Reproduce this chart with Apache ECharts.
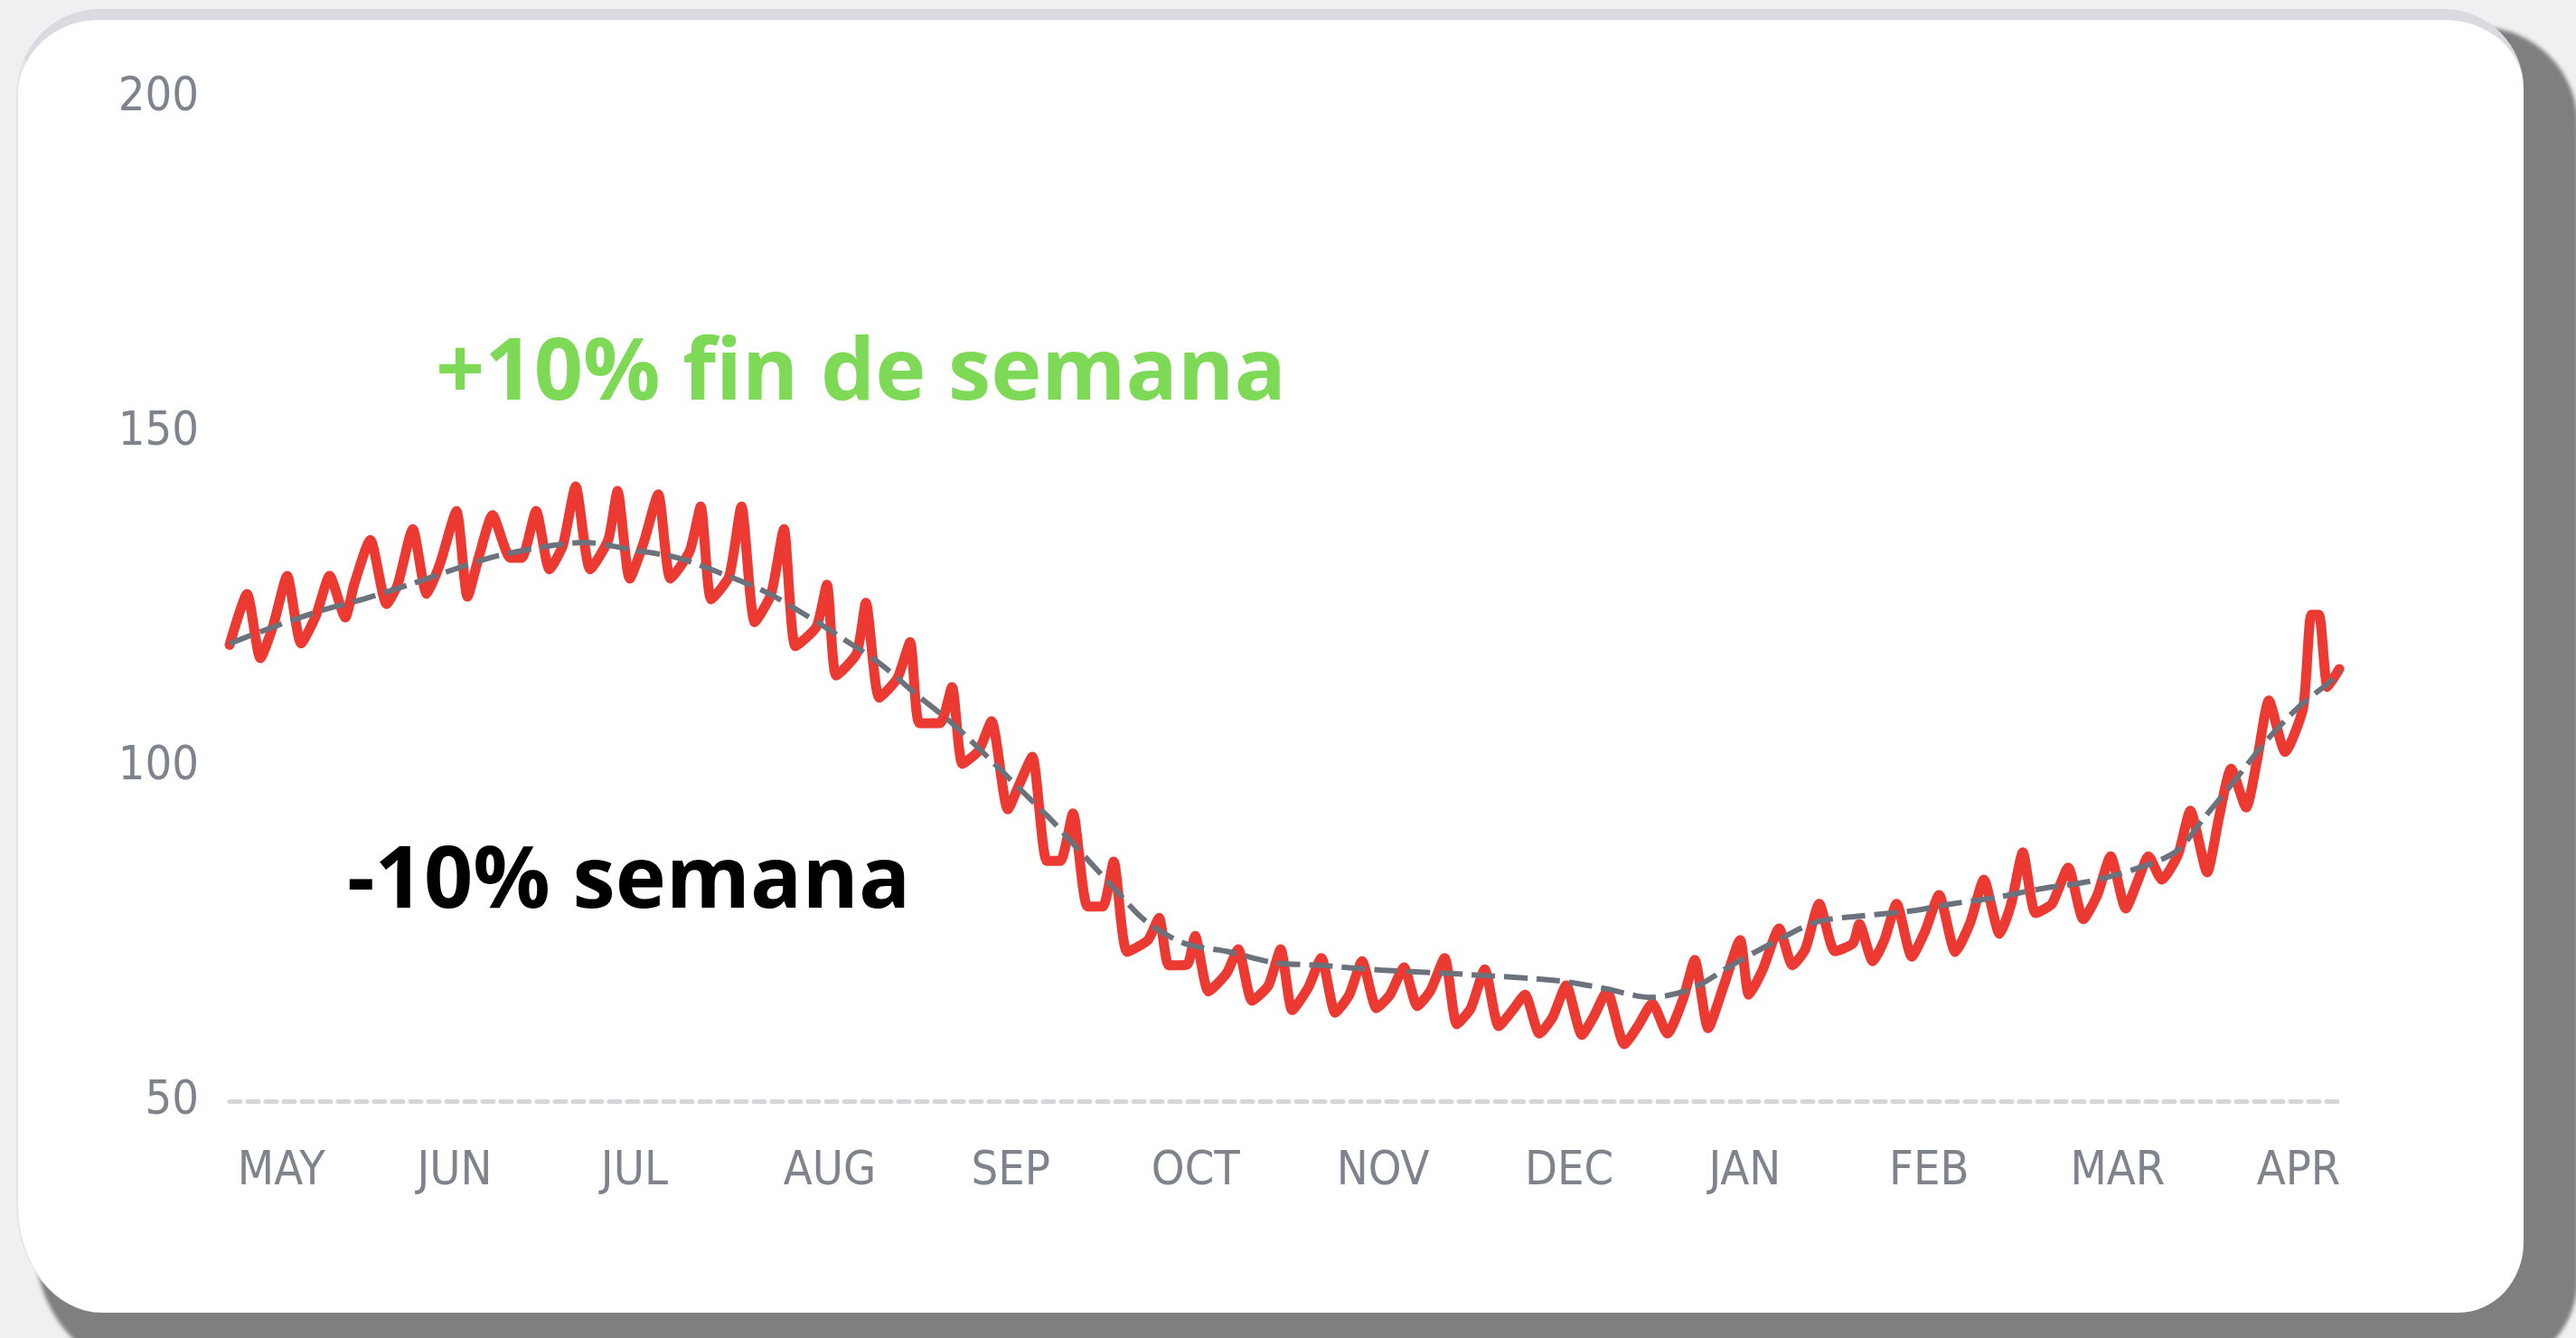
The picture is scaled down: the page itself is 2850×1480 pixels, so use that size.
<!DOCTYPE html>
<html>
<head>
<meta charset="utf-8">
<script src="https://cdn.jsdelivr.net/npm/echarts@6/dist/echarts.min.js"></script>
<style>
  html, body { margin: 0; padding: 0; width: 2850px; height: 1480px; overflow: hidden; background: #eff0f2; }
  #card {
    position: absolute; left: 18px; top: 10px; width: 2774px; height: 1442px;
    box-sizing: border-box; background: #ffffff;
    border-top: 12px solid #d9dbe0; border-left: 2px solid #e3e5e8;
    border-radius: 92px 88px 72px 95px / 95px 88px 78px 120px;
    box-shadow: 40px 40px 4px 20px #7f7f7f;
  }
  #chart { position: absolute; left: 0; top: 0; width: 2850px; height: 1480px; }
</style>
</head>
<body>
<div id="card"></div>
<div id="chart"></div>
<script>
// Month tick labels and the day (from series start) at which each is centred
const months = ['MAY','JUN','JUL','AUG','SEP','OCT','NOV','DEC','JAN','FEB','MAR','APR'];
const monthDays = [8.9, 38.7, 69.6, 103.2, 134.3, 166.1, 198.3, 230.3, 260.5, 292.2, 324.6, 355.7];

// Red series: daily traffic, key points (day index, value)
const redDays = [
  0, 3.0, 5.3, 7.5, 9.9, 12.3, 14.9, 17.2, 19.9, 21.4,
  24.2, 27.0, 28.9, 31.5, 33.9, 36.2, 39.0, 40.9, 42.9, 45.2,
  48.3, 50.2, 52.7, 55.0, 57.3, 59.5, 62.0, 65.1, 66.7, 68.8,
  71.2, 73.7, 75.8, 79.1, 81.0, 82.8, 85.9, 88.0, 90.3, 93.1,
  95.3, 97.3, 100.9, 102.7, 104.3, 107.8, 109.4, 111.7, 114.8, 117.0,
  118.6, 122.1, 124.2, 126.0, 128.8, 131.0, 133.8, 135.8, 138.0, 140.5,
  142.8, 145.0, 147.5, 150.1, 152.0, 154.3, 157.9, 159.8, 161.5, 164.6,
  166.0, 168.3, 171.4, 173.4, 175.8, 178.6, 180.7, 182.7, 185.4, 187.7,
  190.1, 192.5, 194.7, 197.2, 199.5, 201.9, 204.2, 206.5, 208.9, 211.0,
  213.4, 215.8, 218.2, 220.5, 222.7, 225.2, 227.5, 229.8, 232.5, 234.5,
  236.8, 239.8, 242.1, 244.6, 247.2, 249.9, 251.9, 254.2, 256.9, 259.7,
  261.2, 263.6, 266.4, 268.7, 270.9, 273.3, 276.0, 279.1, 280.2, 282.5,
  284.5, 286.6, 289.2, 291.5, 293.9, 296.7, 299.3, 301.6, 304.3, 306.3,
  308.3, 310.5, 313.3, 316.1, 318.7, 321.1, 323.4, 326.0, 328.0, 329.9,
  332.2, 335.0, 337.1, 340.0, 342.0, 344.1, 346.7, 348.6, 350.6, 353.4,
  356.5, 357.9, 359.2, 360.7, 362.7
];
const redValues = [
  118.2, 125.8, 116.2, 121.1, 128.5, 118.4, 122.7, 128.5, 122.3, 127.2,
  133.9, 124.3, 127.2, 135.5, 125.8, 130.4, 138.2, 125.4, 131.5, 137.6,
  131.2, 131.2, 138.2, 129.5, 133.1, 141.9, 129.5, 133.9, 141.2, 128.1,
  133.5, 140.7, 128.1, 132.2, 138.9, 125.0, 128.5, 138.9, 121.6, 125.8,
  135.5, 118.0, 120.9, 127.2, 113.6, 116.9, 124.5, 110.3, 113.2, 118.6,
  106.5, 106.5, 111.9, 100.4, 102.4, 106.8, 93.6, 97.4, 101.5, 85.9,
  85.9, 93.0, 79.1, 79.1, 85.8, 72.3, 74.1, 77.4, 70.3, 70.4,
  74.7, 66.4, 69.1, 72.7, 65.0, 67.3, 72.7, 63.6, 66.9, 71.4,
  63.2, 65.9, 70.9, 63.9, 65.9, 70.0, 64.2, 66.6, 71.4, 61.5,
  63.9, 69.7, 61.2, 63.5, 65.9, 60.1, 62.6, 67.3, 59.9, 62.6,
  66.4, 58.5, 61.2, 64.6, 60.1, 65.3, 71.1, 60.9, 67.3, 74.1,
  65.9, 69.7, 75.8, 70.3, 72.7, 79.5, 72.4, 73.6, 76.5, 70.9,
  74.1, 79.5, 71.6, 75.4, 80.8, 72.3, 76.8, 83.1, 75.0, 79.5,
  87.2, 78.1, 79.5, 84.9, 77.2, 80.8, 86.6, 78.8, 82.8, 86.6,
  83.1, 86.9, 93.4, 84.2, 92.3, 99.7, 93.9, 101.1, 109.9, 102.2,
  108.8, 122.7, 122.7, 111.9, 114.6
];

// Grey dashed trend line
const trendDays = [
  0, 8.2, 16.0, 23.2, 30.9, 39.3, 46.0, 55.8, 61.1, 69.3,
  77.1, 84.8, 92.2, 98.4, 105.5, 111.7, 117.9, 124.2, 129.9, 135.7,
  141.3, 147.0, 152.1, 157.4, 164.1, 171.9, 179.6, 187.4, 197.8, 213.4,
  228.3, 236.1, 244.4, 251.6, 258.4, 265.6, 272.9, 280.7, 288.9, 296.2,
  304.0, 311.7, 319.5, 327.3, 334.6, 339.7, 344.8, 350.1, 355.7, 360.4,
  363.0
];
const trendValues = [
  118.4, 121.1, 123.4, 125.1, 127.2, 129.7, 131.5, 133.1, 133.5, 132.4,
  131.2, 128.8, 126.1, 123.0, 119.1, 115.5, 110.9, 106.5, 101.8, 96.8,
  92.0, 86.6, 81.8, 77.0, 73.6, 72.3, 70.7, 70.3, 69.6, 68.9,
  68.0, 66.9, 65.5, 66.9, 70.4, 73.8, 76.8, 77.7, 78.4, 79.5,
  80.5, 81.8, 82.8, 84.6, 87.3, 92.6, 98.0, 103.8, 108.9, 112.2,
  114.2
];

// Y axis ticks
const yMin = 50, yMax = 200, yStep = 50;

const pair = (xs, ys) => xs.slice(0, Math.min(xs.length, ys.length)).map((x, i) => [x, ys[i]]);

const labelFont = "'Liberation Sans Narrow', 'DejaVu Sans Condensed', 'Liberation Sans', sans-serif";

const chart = echarts.init(document.getElementById('chart'), null, { renderer: 'canvas' });
chart.setOption({
  backgroundColor: 'transparent',
  animation: false,
  grid: { left: 254, right: 260, top: 108, bottom: 262, containLabel: false },
  xAxis: {
    type: 'value', min: 0, max: 363,
    axisLine: { show: true, lineStyle: { color: '#d4d6da', width: 5, type: [12, 8] } },
    axisTick: { show: false },
    splitLine: { show: false },
    axisLabel: {
      customValues: monthDays,
      margin: 52,
      color: '#7f848c',
      fontSize: 52,
      fontFamily: labelFont,
      formatter: function (v) {
        let best = 0, d = Infinity;
        monthDays.forEach((m, i) => { const e = Math.abs(m - v); if (e < d) { d = e; best = i; } });
        return months[best];
      }
    }
  },
  yAxis: {
    type: 'value', min: yMin, max: yMax, interval: yStep,
    axisLine: { show: false }, axisTick: { show: false }, splitLine: { show: false },
    axisLabel: { margin: 34, color: '#7f848c', fontSize: 52, fontFamily: labelFont }
  },
  series: [
    {
      type: 'line', name: 'tráfico', data: pair(redDays, redValues),
      showSymbol: false, smooth: 0.2, z: 2,
      lineStyle: { color: '#ec3a33', width: 11, join: 'round', cap: 'round' }
    },
    {
      type: 'line', name: 'tendencia', data: pair(trendDays, trendValues),
      showSymbol: false, smooth: 0.3, z: 3,
      lineStyle: { color: '#6c727c', width: 6, type: [26, 10] }
    }
  ],
  graphic: [
    { type: 'text', left: 482, top: 367, z: 10,
      style: { text: '+10% fin de semana', font: "bold 95px 'Open Sans', sans-serif", fill: '#7ed957' } },
    { type: 'text', left: 384, top: 929, z: 10,
      style: { text: '-10% semana', font: "bold 95px 'Open Sans', sans-serif", fill: '#000000' } }
  ]
});
</script>
</body>
</html>
